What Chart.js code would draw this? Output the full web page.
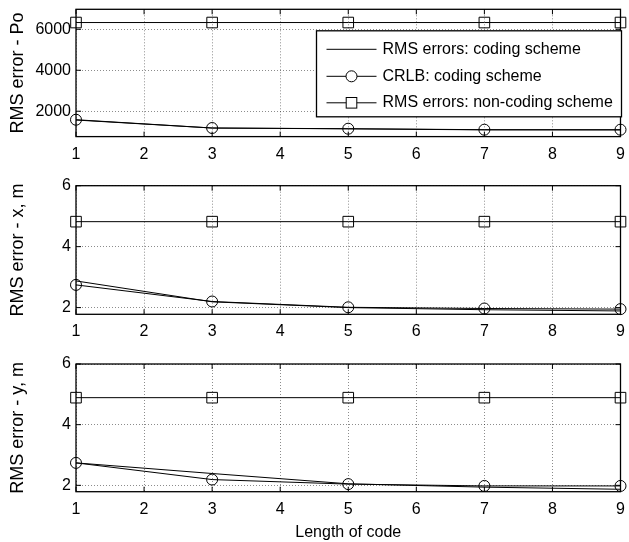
<!DOCTYPE html>
<html>
<head>
<meta charset="utf-8">
<script src="https://cdn.jsdelivr.net/npm/chart.js@4"></script>
<style>
  html, body { margin: 0; padding: 0; background: #fff; }
  #wrap { position: relative; width: 629px; height: 542px; }
  canvas { position: absolute; left: 0; }
</style>
</head>
<body>
<div id="wrap">
  <canvas id="c1" width="629" height="170" style="top:0px"></canvas>
  <canvas id="c2" width="629" height="180" style="top:170px"></canvas>
  <canvas id="c3" width="629" height="192" style="top:350px"></canvas>
</div>
<script>
// ---- data ----
const codeLengths = [1, 3, 5, 7, 9];
const xTickValues = [1, 2, 3, 4, 5, 6, 7, 8, 9];
const seriesNames = ['RMS errors: coding scheme', 'CRLB: coding scheme', 'RMS errors: non-coding scheme'];

const poRmsCoding    = [1570, 1180, 1140, 1090, 1085];
const poCrlb         = [1585, 1180, 1146, 1098, 1098];
const poRmsNonCoding = [6330, 6330, 6330, 6330, 6330];

const xRmsCoding    = [2.875, 2.19, 2.00, 1.93, 1.89];
const xCrlb         = [2.745, 2.20, 2.01, 1.97, 1.95];
const xRmsNonCoding = [4.82, 4.82, 4.82, 4.82, 4.82];

const yRmsCoding    = [2.74, 2.39, 2.05, 1.94, 1.87];
const yCrlb         = [2.74, 2.19, 2.04, 1.98, 1.98];
const yRmsNonCoding = [4.89, 4.89, 4.89, 4.89, 4.89];

const poTickValues = [2000, 4000, 6000];
const mTickValues  = [2, 4, 6];

const yTitles = ['RMS error - Po', 'RMS error - x, m', 'RMS error - y, m'];
const xTitle = 'Length of code';

// ---- setup ----
const FONT = "'Liberation Sans', Arial, sans-serif";
Chart.defaults.font.family = FONT;
Chart.defaults.font.size = 16;
Chart.defaults.color = '#000';

function pts(vals) { return codeLengths.map((x, i) => ({ x: x, y: vals[i] })); }

function makeDatasets(rms, crlb, non) {
  return [
    { label: seriesNames[0], data: pts(rms), borderColor: '#000', borderWidth: 1, pointRadius: 0, tension: 0, clip: false, marker: 'none' },
    { label: seriesNames[1], data: pts(crlb), borderColor: '#000', borderWidth: 1, pointStyle: 'circle', pointRadius: 5.5, pointBorderWidth: 1, pointBorderColor: '#000', pointBackgroundColor: 'rgba(0,0,0,0)', tension: 0, clip: false, marker: 'circle' },
    { label: seriesNames[2], data: pts(non), borderColor: '#000', borderWidth: 1, pointStyle: 'rect', pointRadius: 7.5, pointBorderWidth: 1, pointBorderColor: '#000', pointBackgroundColor: 'rgba(0,0,0,0)', tension: 0, clip: false, marker: 'rect' }
  ];
}

const frame = {
  id: 'frame',
  afterDatasetsDraw(chart) {
    const ctx = chart.ctx, ca = chart.chartArea;
    const xs = chart.scales.x, ys = chart.scales.y;
    ctx.save();
    ctx.strokeStyle = '#000';
    ctx.lineWidth = 1;
    const tl = 5;
    ctx.beginPath();
    xs.ticks.forEach(t => {
      const p = xs.getPixelForValue(t.value);
      ctx.moveTo(p, ca.top); ctx.lineTo(p, ca.top + tl);
      ctx.moveTo(p, ca.bottom); ctx.lineTo(p, ca.bottom - tl);
    });
    ys.ticks.forEach(t => {
      const p = ys.getPixelForValue(t.value);
      ctx.moveTo(ca.left, p); ctx.lineTo(ca.left + tl, p);
      ctx.moveTo(ca.right, p); ctx.lineTo(ca.right - tl, p);
    });
    ctx.stroke();
    ctx.lineWidth = 1.3;
    ctx.strokeRect(ca.left, ca.top, ca.right - ca.left, ca.bottom - ca.top);
    ctx.restore();
  }
};

const legendBox = {
  id: 'legendBox',
  afterDraw(chart) {
    if (!chart.options.plugins.legendBox || !chart.options.plugins.legendBox.show) return;
    const ctx = chart.ctx, ca = chart.chartArea;
    const lw = 305, lh = 86;
    const lx = ca.right + 1 - lw, ly = ca.top + 21.5;
    ctx.save();
    ctx.fillStyle = '#fff';
    ctx.fillRect(lx, ly, lw, lh);
    ctx.strokeStyle = '#000';
    ctx.lineWidth = 1.3;
    ctx.strokeRect(lx, ly, lw, lh);
    ctx.font = '16px ' + FONT;
    ctx.fillStyle = '#000';
    ctx.textBaseline = 'middle';
    ctx.textAlign = 'left';
    const rowsY = [18.5, 45.5, 72];
    chart.data.datasets.forEach((ds, i) => {
      const y = ly + rowsY[i];
      const x0 = lx + 10, x1 = lx + 60, xm = (x0 + x1) / 2;
      ctx.lineWidth = 1;
      ctx.beginPath(); ctx.moveTo(x0, y); ctx.lineTo(x1, y); ctx.stroke();
      if (ds.marker === 'circle') {
        ctx.fillStyle = '#fff';
        ctx.beginPath(); ctx.arc(xm, y, 5.5, 0, Math.PI * 2); ctx.fill(); ctx.stroke();
      } else if (ds.marker === 'rect') {
        ctx.fillStyle = '#fff';
        ctx.fillRect(xm - 5.3, y - 5.3, 10.6, 10.6);
        ctx.strokeRect(xm - 5.3, y - 5.3, 10.6, 10.6);
      }
      ctx.fillStyle = '#000';
      ctx.fillText(ds.label, lx + 66, y);
    });
    ctx.restore();
  }
};

function makeChart(id, datasets, ymin, ymax, yTicks, yTitle, opts) {
  const canvasH = document.getElementById(id).height;
  return new Chart(document.getElementById(id), {
    type: 'line',
    data: { datasets: datasets },
    plugins: [frame, legendBox],
    options: {
      responsive: false,
      animation: false,
      events: [],
      layout: { padding: { top: opts.top, right: 6, left: 0, bottom: 0 } },
      plugins: {
        legend: { display: false },
        tooltip: { enabled: false },
        legendBox: { show: !!opts.legend }
      },
      scales: {
        x: {
          type: 'linear',
          min: 1, max: 9,
          afterBuildTicks: s => { s.ticks = xTickValues.map(v => ({ value: v })); },
          afterFit: s => { s.height = canvasH - opts.top - opts.plotH; s.paddingLeft = 0; s.paddingRight = 0; },
          ticks: { padding: 8, font: { size: 16 }, color: '#000', maxRotation: 0, autoSkip: false, callback: v => String(v) },
          grid: { color: 'rgba(0,0,0,0.45)', lineWidth: 1, drawTicks: false },
          border: { display: false, dash: [1, 2] },
          title: opts.xTitle ? { display: true, text: opts.xTitle, font: { size: 16 }, color: '#000', padding: { top: 0, bottom: 0 } } : { display: false }
        },
        y: {
          type: 'linear',
          min: ymin, max: ymax,
          afterBuildTicks: s => { s.ticks = yTicks.map(v => ({ value: v })); },
          afterFit: s => { s.width = 76; s.paddingTop = 0; s.paddingBottom = 0; },
          ticks: { padding: 5, font: { size: 16 }, color: '#000', callback: v => String(v) },
          grid: { color: 'rgba(0,0,0,0.45)', lineWidth: 1, drawTicks: false },
          border: { display: false, dash: [1, 2] },
          title: { display: true, text: yTitle, font: { size: 18 }, color: '#000', padding: { top: 7, bottom: 0 } }
        }
      }
    }
  });
}

makeChart('c1', makeDatasets(poRmsCoding, poCrlb, poRmsNonCoding), 761, 6976, poTickValues, yTitles[0], { top: 9.3, plotH: 127.3, legend: true });
makeChart('c2', makeDatasets(xRmsCoding, xCrlb, xRmsNonCoding), 1.78, 6, mTickValues, yTitles[1], { top: 15.7, plotH: 128.6 });
makeChart('c3', makeDatasets(yRmsCoding, yCrlb, yRmsNonCoding), 1.79, 6, mTickValues, yTitles[2], { top: 14, plotH: 127.7, xTitle: xTitle });
</script>
</body>
</html>
